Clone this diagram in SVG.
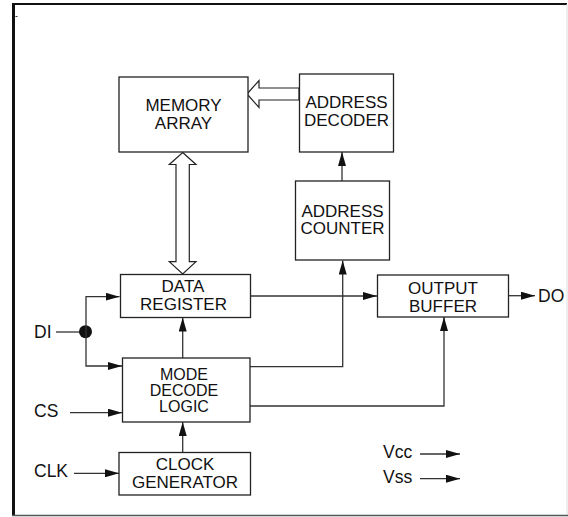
<svg xmlns="http://www.w3.org/2000/svg" width="568" height="517" viewBox="0 0 568 517">
<defs>
<style>
.box{fill:#fff;stroke:#222;stroke-width:1.3}
.t{font-family:"Liberation Sans",Arial,sans-serif;font-size:17px;fill:#111;text-anchor:middle}
.ts{font-family:"Liberation Sans",Arial,sans-serif;font-size:16px;fill:#111;text-anchor:middle}
.tl{font-family:"Liberation Sans",Arial,sans-serif;font-size:17.5px;fill:#111}
.w{fill:none;stroke:#333;stroke-width:1.3}
.hollow{fill:#fff;stroke:#222;stroke-width:1.2;stroke-linejoin:miter}
</style>
<marker id="ah" viewBox="0 0 14 8" refX="14" refY="4" markerWidth="14" markerHeight="8" markerUnits="userSpaceOnUse" orient="auto">
<path d="M0,0 L14,4 L0,8 Z" fill="#111"/>
</marker>
</defs>
<rect x="0" y="0" width="568" height="517" fill="#fff"/>
<g id="frame">
<line x1="13.5" y1="3" x2="13.5" y2="516" stroke="#111" stroke-width="3"/>
<line x1="12" y1="4" x2="567" y2="4" stroke="#111" stroke-width="2.2"/>
<line x1="567" y1="4" x2="567" y2="516" stroke="#ddd" stroke-width="1"/>
<line x1="12" y1="515.5" x2="568" y2="515.5" stroke="#555" stroke-width="1.6"/>
<line x1="15.5" y1="16.5" x2="17.5" y2="16.5" stroke="#333" stroke-width="1"/>
</g>
<g id="connectors">
<polygon class="hollow" points="247,94 259,80.5 259,88 299,88 299,100 259,100 259,107.5"/>
<polygon class="hollow" points="182.7,152.5 196,164.5 189.3,164.5 189.3,261.7 196,261.7 182.7,274 169.3,261.7 176,261.7 176,164.5 169.3,164.5"/>
<line class="w" x1="342" y1="181" x2="342" y2="152" marker-end="url(#ah)"/>
<line class="w" x1="56" y1="332" x2="86" y2="332"/>
<circle cx="85.5" cy="331.7" r="6.5" fill="#111"/>
<polyline class="w" points="86,332 86,296.7 119.5,296.7" marker-end="url(#ah)"/>
<polyline class="w" points="86,332 86,366 122,366" marker-end="url(#ah)"/>
<line class="w" x1="70" y1="412.7" x2="122" y2="412.7" marker-end="url(#ah)"/>
<line class="w" x1="74" y1="473.3" x2="119" y2="473.3" marker-end="url(#ah)"/>
<line class="w" x1="182.7" y1="452" x2="182.7" y2="422" marker-end="url(#ah)"/>
<line class="w" x1="182.7" y1="358" x2="182.7" y2="317.5" marker-end="url(#ah)"/>
<line class="w" x1="250" y1="296" x2="377" y2="296" marker-end="url(#ah)"/>
<polyline class="w" points="250,366.7 342.7,366.7 342.7,260.5" marker-end="url(#ah)"/>
<polyline class="w" points="250,406 444,406 444,317" marker-end="url(#ah)"/>
<line class="w" x1="508" y1="295.7" x2="535" y2="295.7" marker-end="url(#ah)"/>
<line class="w" x1="420" y1="454" x2="460" y2="454" marker-end="url(#ah)"/>
<line class="w" x1="420" y1="478.7" x2="460" y2="478.7" marker-end="url(#ah)"/>
</g>
<g id="memory-array">
<rect class="box" x="119" y="77" width="129" height="75"/>
<text class="t" x="183.5" y="111">MEMORY</text>
<text class="t" x="183.5" y="129">ARRAY</text>
</g>
<g id="address-decoder">
<rect class="box" x="299.5" y="74" width="94" height="78"/>
<text class="t" x="346.5" y="108">ADDRESS</text>
<text class="t" x="346.5" y="126">DECODER</text>
</g>
<g id="address-counter">
<rect class="box" x="295.5" y="181" width="94" height="79"/>
<text class="t" x="342.5" y="216.5">ADDRESS</text>
<text class="t" x="342.5" y="234.3">COUNTER</text>
</g>
<g id="data-register">
<rect class="box" x="120.5" y="274.5" width="130" height="43"/>
<text class="t" x="183" y="291.5">DATA</text>
<text class="t" x="183.5" y="310">REGISTER</text>
</g>
<g id="output-buffer">
<rect class="box" x="377.5" y="275" width="131" height="42"/>
<text class="t" x="443" y="294.3">OUTPUT</text>
<text class="t" x="443" y="312.3">BUFFER</text>
</g>
<g id="mode-decode-logic">
<rect class="box" x="122.5" y="358" width="127.5" height="64"/>
<text class="ts" x="184" y="379.5">MODE</text>
<text class="ts" x="184" y="395.8">DECODE</text>
<text class="ts" x="184" y="412.1">LOGIC</text>
</g>
<g id="clock-generator">
<rect class="box" x="119" y="452.5" width="131.5" height="42.5"/>
<text class="t" x="185" y="470">CLOCK</text>
<text class="t" x="185" y="488.3">GENERATOR</text>
</g>
<g id="pins">
<text class="tl" x="34" y="337.7">DI</text>
<text class="tl" x="34" y="416.7">CS</text>
<text class="tl" x="34" y="477">CLK</text>
<text class="tl" x="538" y="302">DO</text>
<text class="tl" x="383" y="458.3">Vcc</text>
<text class="tl" x="383" y="482.7">Vss</text>
</g>
</svg>
